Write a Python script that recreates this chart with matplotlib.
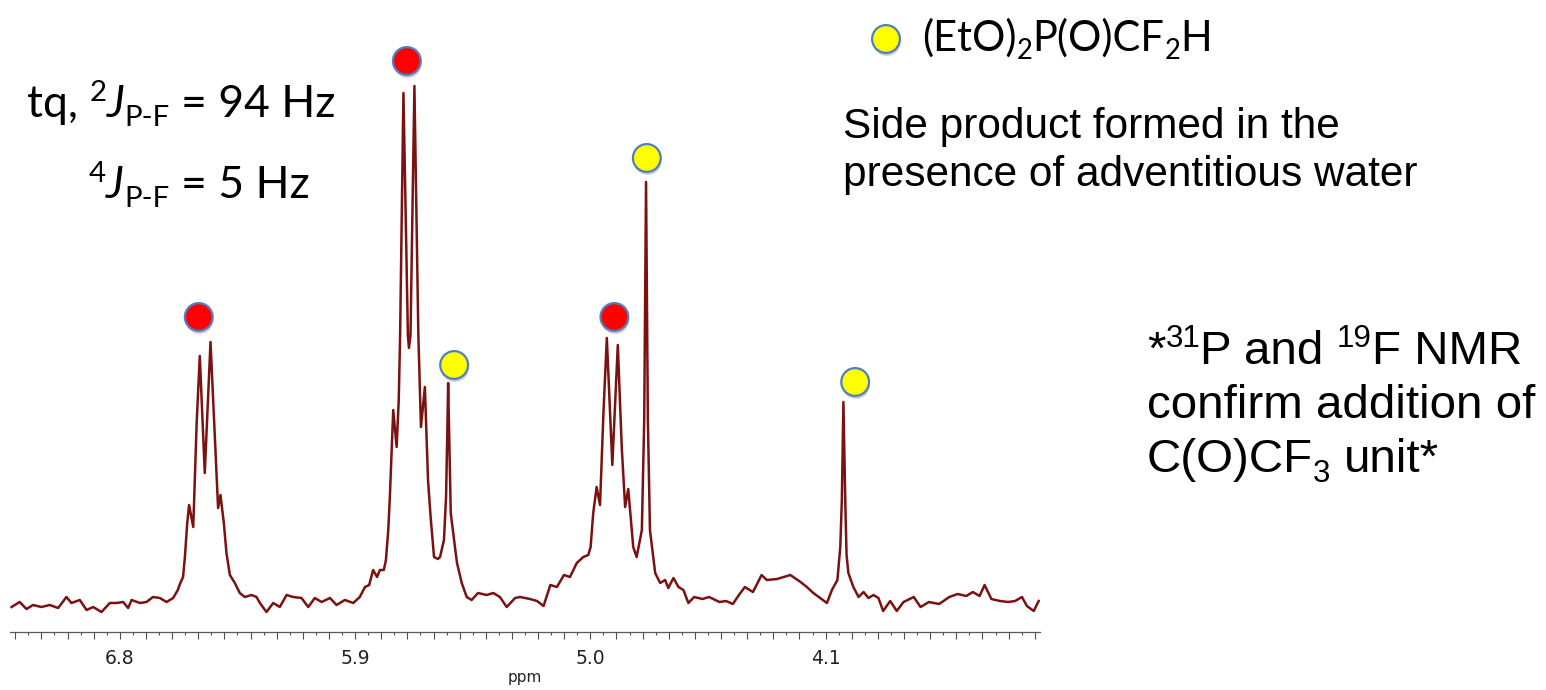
import matplotlib
matplotlib.use("Agg")
from matplotlib import pyplot as plt
from matplotlib import patheffects as pe
from matplotlib.ticker import FixedLocator, FuncFormatter
import numpy as np

# 1H spectrum trace (chemical shift / ppm, intensity / arb. units)
shift_ppm = [
    7.214, 7.183, 7.157, 7.132, 7.100, 7.068, 7.036, 7.004, 6.985, 6.953,
    6.927, 6.902, 6.870, 6.838, 6.813, 6.787, 6.768, 6.755, 6.723, 6.698,
    6.673, 6.647, 6.621, 6.596, 6.578, 6.570, 6.558, 6.551, 6.542, 6.535,
    6.519, 6.506, 6.494, 6.475, 6.453, 6.436, 6.424, 6.415, 6.402, 6.392,
    6.379, 6.360, 6.341, 6.322, 6.296, 6.277, 6.264, 6.239, 6.213, 6.188,
    6.162, 6.137, 6.105, 6.079, 6.054, 6.028, 5.996, 5.971, 5.939, 5.907,
    5.882, 5.862, 5.846, 5.831, 5.816, 5.805, 5.790, 5.782, 5.773, 5.767,
    5.754, 5.741, 5.733, 5.728, 5.715, 5.698, 5.694, 5.688, 5.673, 5.658,
    5.648, 5.633, 5.621, 5.611, 5.598, 5.583, 5.575, 5.560, 5.552, 5.547,
    5.544, 5.539, 5.534, 5.518, 5.510, 5.492, 5.473, 5.454, 5.430, 5.397,
    5.371, 5.346, 5.320, 5.288, 5.269, 5.231, 5.204, 5.179, 5.153, 5.128,
    5.101, 5.078, 5.052, 5.027, 5.008, 4.999, 4.989, 4.976, 4.963, 4.950,
    4.937, 4.916, 4.895, 4.880, 4.867, 4.855, 4.836, 4.823, 4.803, 4.794,
    4.787, 4.780, 4.772, 4.752, 4.733, 4.714, 4.702, 4.682, 4.663, 4.644,
    4.625, 4.603, 4.571, 4.546, 4.506, 4.481, 4.455, 4.429, 4.409, 4.378,
    4.345, 4.325, 4.286, 4.235, 4.196, 4.172, 4.147, 4.121, 4.095, 4.076,
    4.055, 4.044, 4.038, 4.032, 4.025, 4.020, 4.013, 3.994, 3.974, 3.955,
    3.936, 3.917, 3.898, 3.880, 3.853, 3.828, 3.802, 3.763, 3.737, 3.705,
    3.666, 3.627, 3.595, 3.562, 3.537, 3.511, 3.492, 3.466, 3.433, 3.402,
    3.375, 3.349, 3.330, 3.304, 3.285,
]
intensity = [
    25, 30, 23, 27, 25, 27, 24, 35, 29, 32,
    22, 25, 20, 29, 29, 30, 24, 32, 29, 30,
    35, 34, 30, 34, 42, 48, 55, 75, 109, 127,
    105, 209, 276, 159, 290, 192, 124, 137, 109, 79,
    57, 49, 39, 35, 37, 35, 29, 20, 29, 25,
    37, 35, 34, 25, 34, 30, 34, 27, 32, 29,
    35, 45, 47, 62, 55, 62, 62, 72, 102, 135,
    222, 185, 232, 292, 539, 297, 284, 297, 546, 297,
    205, 245, 152, 115, 75, 73, 75, 92, 135, 202,
    249, 182, 119, 85, 69, 49, 35, 32, 39, 37,
    39, 35, 25, 34, 35, 33, 31, 26, 47, 45,
    57, 55, 69, 75, 77, 85, 119, 145, 127, 219,
    294, 167, 287, 185, 125, 143, 85, 75, 102, 212,
    450, 212, 102, 59, 49, 52, 44, 54, 45, 42,
    29, 35, 33, 35, 30, 31, 28, 38, 45, 40,
    57, 52, 53, 57, 50, 45, 39, 34, 29, 42,
    52, 85, 132, 230, 132, 77, 59, 45, 35, 40,
    34, 37, 34, 21, 31, 21, 30, 35, 25, 30,
    28, 35, 38, 36, 40, 36, 47, 33, 31, 30,
    31, 35, 26, 21, 31,
]

# peak labels: red = product multiplets, yellow = (EtO)2P(O)CF2H
red_ppm = [6.498, 5.702, 4.908]
red_height = [315, 571, 315]
yellow_ppm = [5.521, 4.784, 3.987]
yellow_height = [267, 474, 250]

tick_labels = ["6.8", "5.9", "5.0", "4.1"]

W, H = 1546, 690
fig = plt.figure(figsize=(W / 100, H / 100), dpi=100)
renderer = fig.canvas.get_renderer()

ax = fig.add_axes([10 / W, 58 / H, 1030 / W, 572 / H])
ax.plot(shift_ppm, intensity, color="#7b1212", linewidth=1.8, solid_joinstyle="round")

shadow = [pe.SimplePatchShadow(offset=(0.6, -2.2), shadow_rgbFace="0.45", alpha=0.35), pe.Normal()]
dot = dict(linestyle="none", marker="o", markersize=20, markeredgecolor="#4f7fbf",
           markeredgewidth=1.6, clip_on=False, zorder=5, path_effects=shadow)
ax.plot(red_ppm, red_height, markerfacecolor="#ff0000", **dot)
ax.plot(yellow_ppm, yellow_height, markerfacecolor="#ffff00", **dot)

ax.set_xlim(7.22, 3.28)
ax.set_ylim(0, 572)
for s in ["top", "left", "right"]:
    ax.spines[s].set_visible(False)
ax.spines["bottom"].set_color("0.35")
ax.spines["bottom"].set_linewidth(0.9)
ax.set_yticks([])

ax.xaxis.set_major_locator(FixedLocator(np.round(np.arange(3.3, 7.25, 0.1), 2)))
ax.xaxis.set_minor_locator(FixedLocator(np.round(np.arange(3.35, 7.25, 0.1), 2)))
ax.xaxis.set_major_formatter(FuncFormatter(lambda v, p: "%.1f" % v if "%.1f" % v in tick_labels else ""))
ax.tick_params(axis="x", which="major", length=5, width=0.8, color="0.3", pad=7.5,
               labelsize=13.5, labelcolor="#222222")
ax.tick_params(axis="x", which="minor", length=2.5, width=0.8, color="0.3")
ax.set_xlabel("ppm", fontsize=11, color="#222222", labelpad=1)


def advance(s, size, family, style):
    def width(txt):
        t = fig.text(0, 0, txt, fontsize=size, family=family, style=style)
        w = t.get_window_extent(renderer).width
        t.remove()
        return w
    return width("x" + s + "x") - width("xx")


def rich(x, y, parts, size, family):
    # x, y: start of the baseline in pixels from the top-left corner
    for s, kind in parts:
        fs = size * 0.66 if kind in ("sup", "sub") else size
        dy = {"sup": 0.36, "sub": -0.2}.get(kind, 0) * size * 100 / 72
        style = "italic" if kind == "it" else "normal"
        body = s.lstrip()
        lead = s[:len(s) - len(body)]
        if lead:
            x += advance(lead, fs, family, style)
        fig.text(x / W, (H - y + dy) / H, body, fontsize=fs, family=family,
                 style=style, va="baseline", color="black")
        x += advance(body, fs, family, style)


calibri = ["Lato", "DejaVu Sans"]
arial = ["Liberation Sans", "DejaVu Sans"]

rich(27, 117, [("tq, ", ""), ("2", "sup"), ("J", "it"), ("P-F", "sub"), (" = 94 Hz", "")], 32, calibri)
rich(89, 198, [("4", "sup"), ("J", "it"), ("P-F", "sub"), (" = 5 Hz", "")], 32, calibri)

# legend entry for the side product
fig.add_artist(plt.Line2D([886 / W], [1 - 39 / H], transform=fig.transFigure,
                          markerfacecolor="#ffff00", **dot))
rich(922, 51, [("(EtO)", ""), ("2", "sub"), ("P(O)CF", ""), ("2", "sub"), ("H", "")], 30, calibri)

rich(843, 138, [("Side product formed in the", "")], 30.5, arial)
rich(843, 186, [("presence of adventitious water", "")], 30.5, arial)

rich(1147, 364, [("*", ""), ("31", "sup"), ("P and ", ""), ("19", "sup"), ("F NMR", "")], 34.2, arial)
rich(1147, 418, [("confirm addition of", "")], 34.2, arial)
rich(1147, 472, [("C(O)CF", ""), ("3", "sub"), (" unit*", "")], 34.2, arial)

fig.savefig("out.png", dpi=100)
